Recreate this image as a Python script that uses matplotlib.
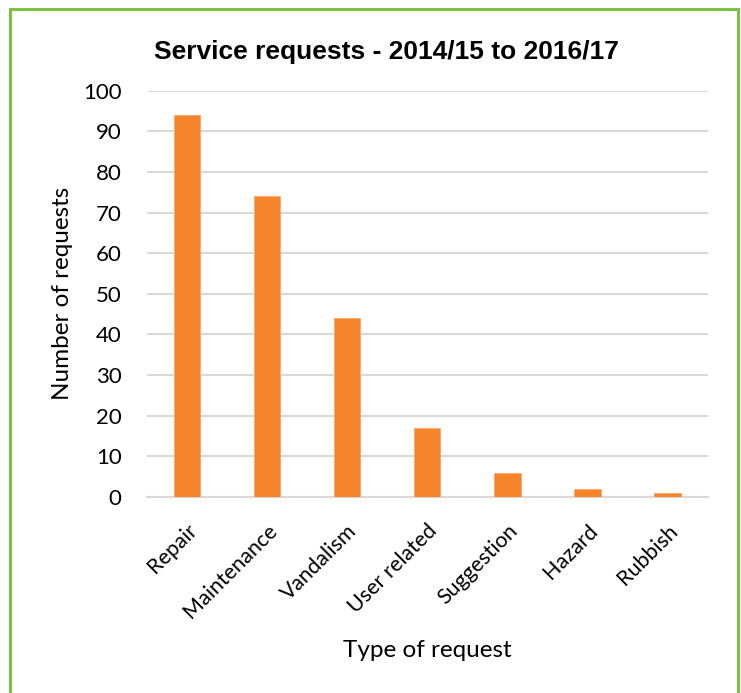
import matplotlib.pyplot as plt
import matplotlib.transforms as mtransforms
from matplotlib.patches import Rectangle

# Request counts by type
categories = ['Repair', 'Maintenance', 'Vandalism', 'User related',
              'Suggestion', 'Hazard', 'Rubbish']
requests = [94, 74, 44, 17, 6, 2, 1]
yticks = [0, 10, 20, 30, 40, 50, 60, 70, 80, 90, 100]

fig = plt.figure(figsize=(7.41, 6.93), dpi=100)

# green frame round the whole chart
fig.patches.append(Rectangle((0.014, -0.01), 0.982, 0.997, transform=fig.transFigure,
                             fill=False, edgecolor='#7dc142', linewidth=2.2))

ax = fig.add_axes([0.198, 0.283, 0.757, 0.586])
x = range(len(categories))
ax.bar(x, requests, width=0.33, color='#f5842a', edgecolor='#f9a868',
       linewidth=0.6, zorder=3)

ax.set_xlim(-0.5, len(categories) - 0.5)
ax.set_ylim(0, 100)
ax.set_yticks(yticks)
ax.set_yticklabels([str(t) for t in yticks], fontsize=16, family='Lato')
ax.set_xticks(list(x))
ax.set_xticklabels(categories, rotation=45, ha='right', va='center',
                   rotation_mode='anchor', fontsize=15.5, family='Lato')
ax.tick_params(length=0)
ax.tick_params(axis='y', pad=18)
ax.tick_params(axis='x', pad=22)

# nudge the slanted category labels a little to the right
shift = mtransforms.ScaledTranslation(5 / 72, 0, fig.dpi_scale_trans)
for lbl in ax.get_xticklabels():
    lbl.set_transform(lbl.get_transform() + shift)

ax.grid(axis='y', color='#d9d9d9', linewidth=1.5, zorder=0)
for s in ['top', 'right', 'left']:
    ax.spines[s].set_visible(False)
ax.spines['bottom'].set_color('#d9d9d9')
ax.spines['bottom'].set_linewidth(1.5)

fig.text(0.085, 0.577, 'Number of requests', fontsize=17.5, family='Lato',
         rotation=90, ha='center', va='center')
fig.text(0.577, 0.062, 'Type of request', fontsize=17.5, family='Lato',
         ha='center', va='center')
fig.text(0.522, 0.925, 'Service requests - 2014/15 to 2016/17', fontsize=19,
         fontweight='bold', family='Liberation Sans', ha='center', va='center')

fig.savefig('out.png', dpi=100, facecolor='white')
